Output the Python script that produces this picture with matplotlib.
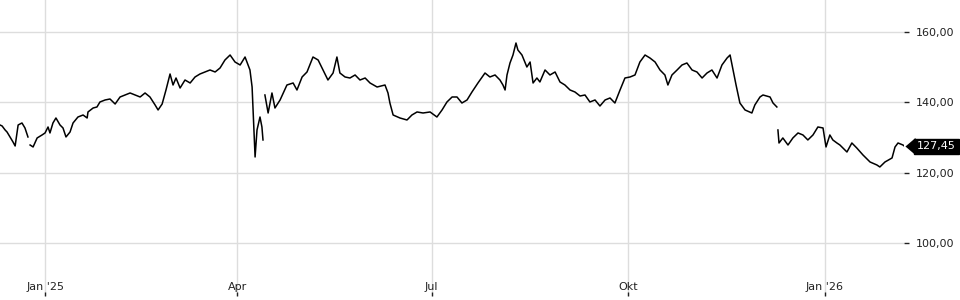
import matplotlib
matplotlib.use("Agg")
import matplotlib.pyplot as plt
import matplotlib.dates as mdates
import matplotlib.transforms as mtransforms
from matplotlib.ticker import FuncFormatter
import numpy as np
import pandas as pd

# days since 2025-01-01 and price (nan = gap in the data)
day_offset = [
    -21.1, -20.1, -18.7, -17.8, -16.4, -15.0, -14.0, -12.6, -10.8, -9.4, -8.0,
    -7.5,
    -7.0, -5.6, -3.7, -1.4, 0.0, 1.4, 2.3, 3.7, 5.1, 7.0, 8.4, 9.8, 11.7, 13.1,
    15.4, 17.8, 19.7, 20.1, 22.5, 24.3, 25.7, 28.1, 30.4, 32.8, 35.1, 37.4,
    39.8, 42.1, 44.5, 46.8, 49.1, 51.5, 52.9, 54.8, 56.6, 58.5, 59.9, 61.3,
    63.2, 65.5, 67.9, 70.2, 72.5, 74.9, 77.2, 79.6, 81.9, 84.2, 86.6, 88.9,
    91.3, 93.6, 95.0, 95.9, 96.9, 97.3, 98.3, 99.2, 100.6, 101.5, 102.0,
    102.4,
    102.9, 104.4, 106.2, 107.6, 110.0, 113.2, 116.1, 117.9, 120.3, 122.6,
    125.4, 127.8, 130.1, 132.4, 134.8, 136.6, 138.0, 140.4, 142.7, 145.1,
    147.4, 149.8, 152.1, 155.4, 159.1, 160.5, 161.4, 162.9, 166.1, 169.4,
    171.7, 174.1, 176.9, 180.2, 183.4, 185.8, 188.1, 190.5, 192.8, 195.1,
    197.5, 199.8, 202.6, 205.9, 208.2, 210.6, 212.9, 214.3, 215.3, 216.2,
    217.6, 219.0, 220.4, 221.3, 223.2, 225.5, 227.0, 228.4, 230.2, 231.6,
    234.0, 236.3, 238.7, 241.0, 243.3, 245.7, 248.0, 250.4, 252.7, 255.0,
    257.4, 259.7, 262.1, 264.4, 266.7, 269.1, 271.4, 273.8, 276.1, 278.4,
    280.8, 283.1, 285.5, 287.8, 290.1, 291.5, 293.4, 295.8, 298.1, 300.4,
    302.8, 305.1, 307.5, 309.8, 312.1, 314.5, 316.8, 319.2, 320.6, 322.0,
    323.4, 325.2, 327.6, 330.8, 332.2, 334.6, 336.0, 339.3, 340.7, 342.5,
    342.8,
    343.0, 343.5, 345.3, 347.7, 350.0, 352.4, 354.7, 357.0, 359.4, 361.7,
    364.1, 365.5, 367.3, 368.7, 370.6, 372.0, 373.4, 375.3, 377.6, 379.9,
    382.8, 386.1, 389.3, 390.7, 393.1, 396.4, 397.8, 399.2, 401.5, 402.4,
]
price = [
    133.56, 133.28, 132.14, 131.57, 130.15, 128.73, 127.59, 133.56, 134.13, 132.71, 130.15,
    np.nan,
    127.87, 127.31, 129.87, 130.72, 131.29, 132.99, 131.29, 134.13, 135.55, 133.56,
    132.71, 130.15, 131.57, 134.13, 135.83, 136.40, 135.55, 137.26, 138.39, 138.68,
    140.10, 140.67, 140.95, 139.53, 141.52, 142.09, 142.66, 142.09, 141.52, 142.66,
    141.52, 139.25, 137.83, 139.53, 143.51, 148.06, 144.93, 146.92, 144.08, 146.35,
    145.50, 147.21, 148.06, 148.63, 149.20, 148.63, 149.77, 152.04, 153.46, 151.47,
    150.62, 152.89, 150.62, 149.20, 144.36, 138.68, 124.46, 132.14, 135.83, 132.99,
    129.30,
    np.nan,
    142.09, 136.97, 142.66, 138.39, 140.67, 144.93, 145.50, 143.51, 147.21, 148.63,
    152.89, 152.04, 149.20, 146.35, 148.34, 152.89, 148.34, 147.21, 146.92, 147.78,
    146.35, 146.92, 145.50, 144.36, 144.93, 142.66, 139.81, 136.40, 135.55, 134.98,
    136.40, 137.26, 136.97, 137.26, 135.83, 137.83, 140.10, 141.52, 141.52, 139.81,
    140.67, 142.94, 145.50, 148.34, 147.21, 147.78, 146.35, 144.93, 143.51, 147.78,
    151.19, 153.46, 156.87, 154.88, 153.46, 150.05, 151.47, 145.50, 146.92, 145.79,
    149.20, 147.78, 148.63, 145.79, 144.93, 143.51, 142.94, 141.80, 142.09, 140.10,
    140.67, 138.96, 140.67, 141.24, 139.81, 143.51, 146.92, 147.21, 147.78, 151.47,
    153.46, 152.61, 151.47, 149.20, 147.78, 144.93, 147.78, 149.20, 150.62, 151.19,
    149.20, 148.63, 146.92, 148.34, 149.20, 146.92, 150.62, 152.61, 153.46, 149.20,
    144.93, 139.81, 137.83, 136.97, 139.25, 141.52, 142.09, 141.52, 139.81, 138.68,
    np.nan,
    132.14, 128.44, 129.87, 127.87, 129.87, 131.29, 130.72, 129.30, 130.72, 132.99,
    132.71, 127.31, 130.72, 129.30, 128.44, 127.87, 127.02, 125.88, 128.44, 127.02,
    125.03, 123.04, 122.19, 121.62, 123.04, 124.18, 127.31, 128.44, 127.87, 127.45,
]
last_price = 127.45

tick_dates = ["2025-01-01", "2025-04-01", "2025-07-01", "2025-10-01", "2026-01-01"]
tick_labels = ["Jan '25", "Apr", "Jul", "Okt", "Jan '26"]
y_ticks = [100, 120, 140, 160]

dates = pd.Timestamp("2025-01-01") + pd.to_timedelta(day_offset, unit="D")

fig = plt.figure(figsize=(9.6, 3.0), dpi=100)
ax = fig.add_axes([0, 4 / 300, 904 / 960, 296 / 300])

ax.plot(dates, price, color="black", linewidth=1.1)

ax.set_xlim(pd.Timestamp("2024-12-10 22:00"), pd.Timestamp("2026-02-07"))
ax.set_ylim(84.93, 169.10)

ax.set_xticks(pd.to_datetime(tick_dates))
ax.set_xticklabels(tick_labels)
ax.set_yticks(y_ticks)
ax.yaxis.set_major_formatter(FuncFormatter(lambda v, p: f"{v:.2f}".replace(".", ",")))

ax.yaxis.tick_right()
ax.tick_params(axis="y", direction="out", length=3.6, width=1, color="#222222",
               pad=5, labelsize=8, labelcolor="#222222")
ax.tick_params(axis="x", direction="in", length=3, width=1, color="#222222",
               pad=-10, labelsize=8, labelcolor="#222222")

ax.grid(True, color="#dddddd", linewidth=1)
ax.set_axisbelow(True)
for s in ax.spines.values():
    s.set_visible(False)

# last price tag
trans = mtransforms.blended_transform_factory(ax.transAxes, ax.transData)
ax.text(917 / 904, last_price, f"{last_price:.2f}".replace(".", ","), transform=trans,
        color="white", fontsize=8, va="center", ha="left",
        bbox=dict(boxstyle="square,pad=0.25", fc="black", ec="black"))
tag = [(-1.18, 0), (0, 1), (0, -1)]
ax.plot([915 / 904], [last_price], marker=tag, markersize=14.5, color="black",
        markeredgewidth=0, transform=trans, clip_on=False)

fig.savefig("out.png", dpi=100)
